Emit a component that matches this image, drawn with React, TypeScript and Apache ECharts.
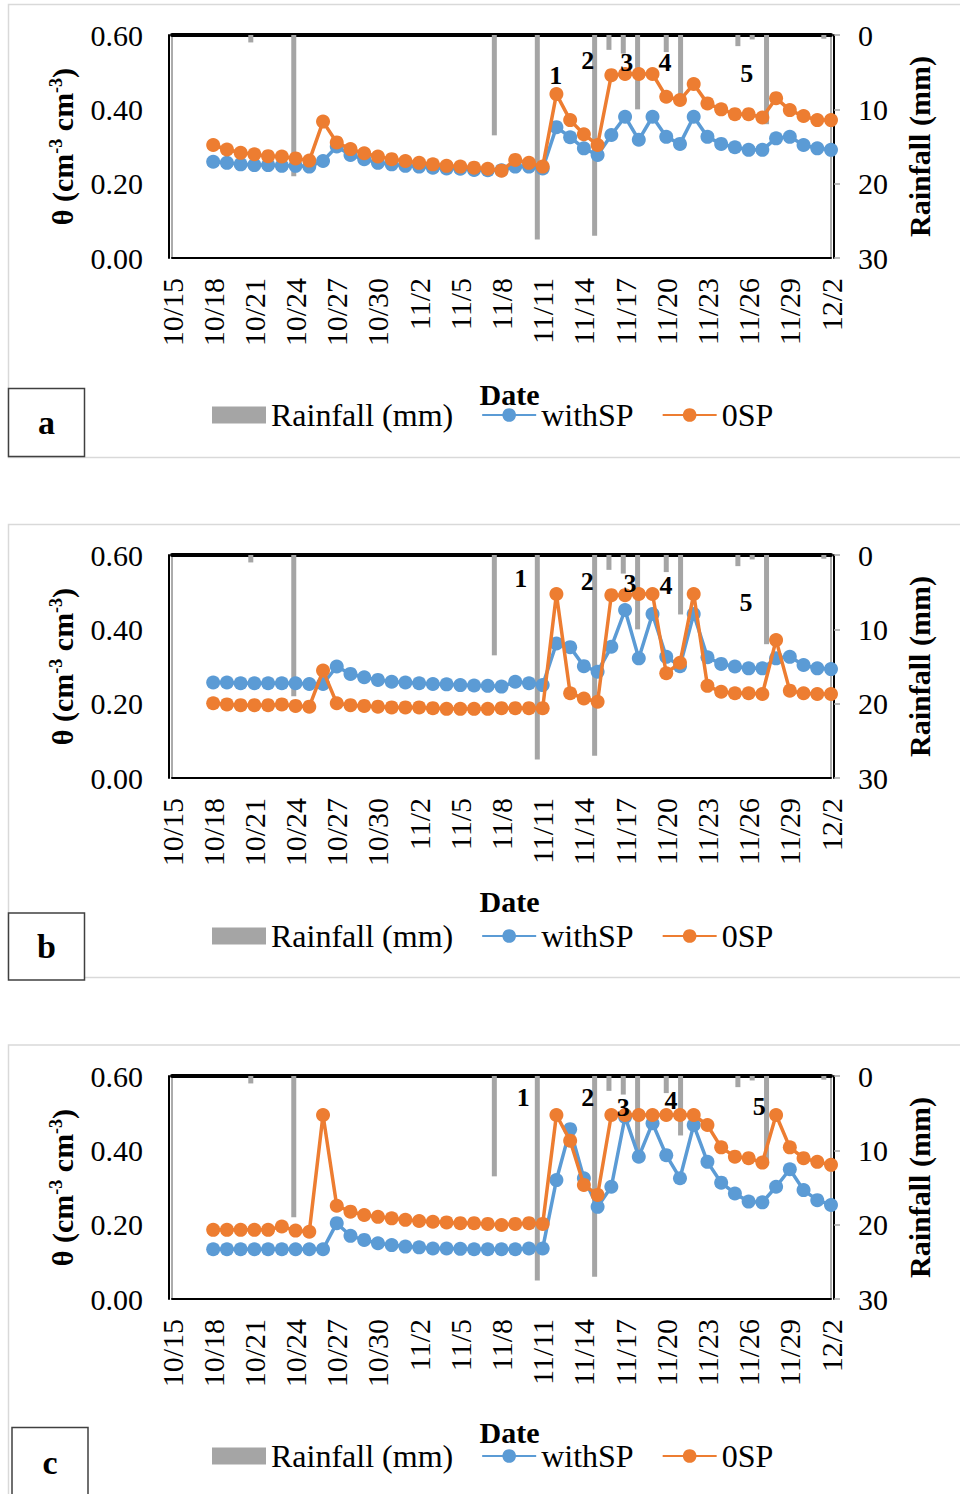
import React, { useEffect, useRef } from "react";
import * as echarts from "echarts";

const dates = [
  "10/15","10/16","10/17","10/18","10/19","10/20","10/21","10/22","10/23","10/24","10/25","10/26","10/27","10/28","10/29","10/30","10/31",
  "11/1","11/2","11/3","11/4","11/5","11/6","11/7","11/8","11/9","11/10","11/11","11/12","11/13","11/14","11/15","11/16","11/17","11/18","11/19","11/20",
  "11/21","11/22","11/23","11/24","11/25","11/26","11/27","11/28","11/29","11/30","12/1","12/2",
];
// measurement dates 10/18 .. 12/2
const measDates = dates.slice(3);

const rainfall = [0,0,0,0,0,1,0,0,19,0,0,0,0,0,0,0,0,0,0,0,0,0,13.5,0,0,27.5,0,0,0,27,2,2.5,10,0,2.3,8,0,0,0,1.5,0.6,12,0,0,0,0.5];

const withSP_a = [0.259,0.256,0.252,0.250,0.250,0.248,0.248,0.246,0.261,0.300,0.277,0.266,0.256,0.252,0.248,0.246,0.243,0.241,0.240,0.237,0.236,0.236,0.246,0.246,0.241,0.352,0.325,0.295,0.277,0.331,0.380,0.318,0.380,0.326,0.307,0.380,0.326,0.307,0.298,0.291,0.291,0.322,0.326,0.304,0.295,0.291];
const zeroSP_a = [0.304,0.292,0.283,0.279,0.274,0.273,0.268,0.262,0.367,0.311,0.293,0.282,0.273,0.266,0.261,0.256,0.252,0.248,0.246,0.243,0.240,0.235,0.264,0.256,0.246,0.441,0.371,0.333,0.304,0.492,0.495,0.495,0.495,0.434,0.425,0.468,0.416,0.400,0.387,0.387,0.378,0.430,0.398,0.382,0.371,0.371];

const withSP_b = [0.257,0.257,0.255,0.255,0.255,0.255,0.255,0.253,0.253,0.300,0.280,0.271,0.264,0.259,0.257,0.255,0.253,0.252,0.250,0.249,0.248,0.246,0.259,0.255,0.250,0.362,0.352,0.301,0.286,0.353,0.452,0.322,0.441,0.326,0.301,0.441,0.325,0.307,0.300,0.295,0.295,0.322,0.326,0.304,0.295,0.293];
const zeroSP_b = [0.201,0.198,0.196,0.196,0.196,0.198,0.194,0.192,0.289,0.201,0.196,0.194,0.192,0.190,0.190,0.190,0.188,0.186,0.186,0.186,0.186,0.188,0.188,0.188,0.188,0.495,0.228,0.214,0.205,0.492,0.492,0.495,0.495,0.282,0.310,0.495,0.248,0.232,0.228,0.228,0.226,0.371,0.235,0.228,0.226,0.226];

const withSP_c = [0.134,0.134,0.134,0.134,0.134,0.134,0.134,0.134,0.134,0.204,0.170,0.159,0.150,0.145,0.141,0.139,0.136,0.136,0.135,0.134,0.134,0.134,0.134,0.136,0.136,0.320,0.457,0.325,0.248,0.302,0.490,0.383,0.473,0.387,0.325,0.468,0.369,0.313,0.284,0.262,0.260,0.302,0.349,0.293,0.266,0.253];
const zeroSP_c = [0.186,0.186,0.186,0.186,0.186,0.195,0.184,0.181,0.495,0.251,0.235,0.226,0.221,0.217,0.213,0.210,0.208,0.206,0.204,0.204,0.202,0.199,0.202,0.204,0.202,0.495,0.426,0.307,0.280,0.495,0.495,0.495,0.495,0.495,0.495,0.495,0.468,0.408,0.383,0.379,0.367,0.495,0.408,0.379,0.369,0.361];

const panelLetters = ["a", "b", "c"];
const eventLabels = ["1", "2", "3", "4", "5"];
const thetaTicks = [0, 0.2, 0.4, 0.6];
const rainTicks = [0, 10, 20, 30];

const FONT = "Liberation Serif";
const BLUE = "#5b9bd5";
const ORANGE = "#ed7d31";
const GRAY = "#a5a5a5";

type Panel = {
  withSP: number[];
  zeroSP: number[];
  top: number;
  frame: [number, number, number, number];
  box: [number, number, number, number];
  dateGap: number;
  legendTop: number;
  events: [number, number][];
};

const panels: Panel[] = [
  {
    withSP: withSP_a, zeroSP: zeroSP_a, top: 35,
    frame: [8.5, 4.5, 960, 453], box: [8.5, 388.5, 76, 68],
    dateGap: 119, legendTop: 399,
    events: [[555.7, 75], [587.7, 60], [626.7, 62], [665, 62], [746.7, 73]],
  },
  {
    withSP: withSP_b, zeroSP: zeroSP_b, top: 555,
    frame: [8.5, 524.5, 960, 453], box: [8.5, 913, 76, 67],
    dateGap: 106, legendTop: 920,
    events: [[520.7, 578], [587.3, 581], [630, 583], [666, 585], [746, 602]],
  },
  {
    withSP: withSP_c, zeroSP: zeroSP_c, top: 1076,
    frame: [8.5, 1045, 960, 460], box: [12, 1427.5, 76, 70],
    dateGap: 116, legendTop: 1440,
    events: [[523.3, 1097], [587.7, 1097], [623.3, 1107], [671, 1100], [759.3, 1106]],
  },
];

const pad = (vals: number[]) => [null, null, null, ...vals];

export default function App() {
  const ref = useRef<HTMLDivElement>(null);
  useEffect(() => {
    if (!ref.current) return;
    const chart = echarts.init(ref.current, undefined, { renderer: "svg" });

    const grids: any[] = [];
    const xAxes: any[] = [];
    const yAxes: any[] = [];
    const series: any[] = [];
    const legends: any[] = [];
    const graphics: any[] = [];

    panels.forEach((p, k) => {
      grids.push({
        left: 172, right: 129, top: p.top, height: 223,
        show: true, borderColor: "#595959", borderWidth: 1, backgroundColor: "transparent",
      });
      xAxes.push({
        type: "category", gridIndex: k, data: dates, boundaryGap: false, position: "bottom", offset: 2,
        axisLine: { show: true, lineStyle: { color: "#000", width: 2 } },
        axisTick: { show: false },
        axisLabel: { interval: 2, rotate: 90, margin: 18, fontSize: 30, color: "#000", fontFamily: FONT },
        splitLine: { show: false },
        name: "Date", nameLocation: "middle", nameGap: p.dateGap,
        nameTextStyle: { fontSize: 30, fontWeight: "bold", color: "#000", fontFamily: FONT, padding: [0, 0, 0, 16] },
      });
      xAxes.push({
        type: "category", gridIndex: k, data: measDates, boundaryGap: true, position: "top",
        axisLine: { show: true, lineStyle: { color: "#000", width: 4 } },
        axisTick: { show: false }, axisLabel: { show: false }, splitLine: { show: false },
      });
      yAxes.push({
        type: "value", gridIndex: k, min: thetaTicks[0], max: thetaTicks[thetaTicks.length - 1], interval: 0.2,
        position: "left", offset: 3,
        axisLine: { show: true, lineStyle: { color: "#000", width: 2 } },
        axisTick: { show: false }, splitLine: { show: false },
        axisLabel: { formatter: (v: number) => v.toFixed(2), fontSize: 30, margin: 26, color: "#000", fontFamily: FONT },
        name: "θ (cm{sup|-3} cm{sup|-3})", nameLocation: "middle", nameRotate: 90, nameGap: 92,
        nameTextStyle: {
          fontSize: 30, fontWeight: "bold", color: "#000", fontFamily: FONT,
          rich: {
            sup: { fontSize: 18, fontWeight: "bold", fontFamily: FONT, color: "#000", verticalAlign: "top", lineHeight: 30 },
          },
        },
      });
      yAxes.push({
        type: "value", gridIndex: k, min: rainTicks[0], max: rainTicks[rainTicks.length - 1], interval: 10,
        inverse: true, position: "right", offset: 3,
        axisLine: { show: true, lineStyle: { color: "#000", width: 2 } },
        axisTick: { show: true, length: 6, lineStyle: { color: "#a6a6a6", width: 1.5 } },
        splitLine: { show: false },
        axisLabel: { fontSize: 30, margin: 24, color: "#000", fontFamily: FONT },
        name: "Rainfall (mm)", nameLocation: "middle", nameRotate: 90, nameGap: 70,
        nameTextStyle: { fontSize: 30, fontWeight: "bold", color: "#000", fontFamily: FONT },
      });
      series.push({
        name: "Rainfall (mm)", type: "bar", xAxisIndex: 2 * k + 1, yAxisIndex: 2 * k + 1,
        data: rainfall, barWidth: 5, itemStyle: { color: GRAY }, z: 1,
      });
      series.push({
        name: "withSP", type: "line", xAxisIndex: 2 * k, yAxisIndex: 2 * k,
        data: pad(p.withSP), symbol: "circle", symbolSize: 14, showSymbol: true, showAllSymbol: true,
        lineStyle: { color: BLUE, width: 3.5 }, itemStyle: { color: BLUE }, z: 3,
      });
      series.push({
        name: "0SP", type: "line", xAxisIndex: 2 * k, yAxisIndex: 2 * k,
        data: pad(p.zeroSP), symbol: "circle", symbolSize: 14, showSymbol: true, showAllSymbol: true,
        lineStyle: { color: ORANGE, width: 3.5 }, itemStyle: { color: ORANGE }, z: 4,
      });
      legends.push({
        left: 212, top: p.legendTop, padding: 0, itemWidth: 54, itemHeight: 17, itemGap: 28,
        data: [{ name: "Rainfall (mm)", icon: "rect" }, "withSP", "0SP"],
        textStyle: { fontSize: 32, color: "#000", fontFamily: FONT },
        selectedMode: false,
      });
      const [fx, fy, fw, fh] = p.frame;
      graphics.push({
        type: "rect", shape: { x: fx, y: fy, width: fw, height: fh },
        style: { fill: "none", stroke: "#d9d9d9", lineWidth: 1.5 }, z: -10, silent: true,
      });
      const [bx, by, bw, bh] = p.box;
      graphics.push({
        type: "rect", shape: { x: bx, y: by, width: bw, height: bh },
        style: { fill: "#fff", stroke: "#404040", lineWidth: 1.5 }, z: 5,
      });
      graphics.push({
        type: "text", x: bx + bw / 2, y: by + bh / 2,
        style: { text: panelLetters[k], font: `bold 34px ${FONT}`, fill: "#000", textAlign: "center", textVerticalAlign: "middle" },
        z: 6,
      });
      p.events.forEach(([ex, ey], j) => {
        graphics.push({
          type: "text", x: ex, y: ey,
          style: { text: eventLabels[j], font: `bold 26px ${FONT}`, fill: "#000", textAlign: "center", textVerticalAlign: "middle" },
          z: 20,
        });
      });
    });

    chart.setOption({
      animation: false,
      backgroundColor: "#fff",
      textStyle: { fontFamily: FONT },
      grid: grids,
      xAxis: xAxes,
      yAxis: yAxes,
      series,
      legend: legends,
      graphic: graphics,
    });
    return () => chart.dispose();
  }, []);
  return <div ref={ref} style={{ position: "absolute", left: 0, top: 0, width: 960, height: 1494 }} />;
}
